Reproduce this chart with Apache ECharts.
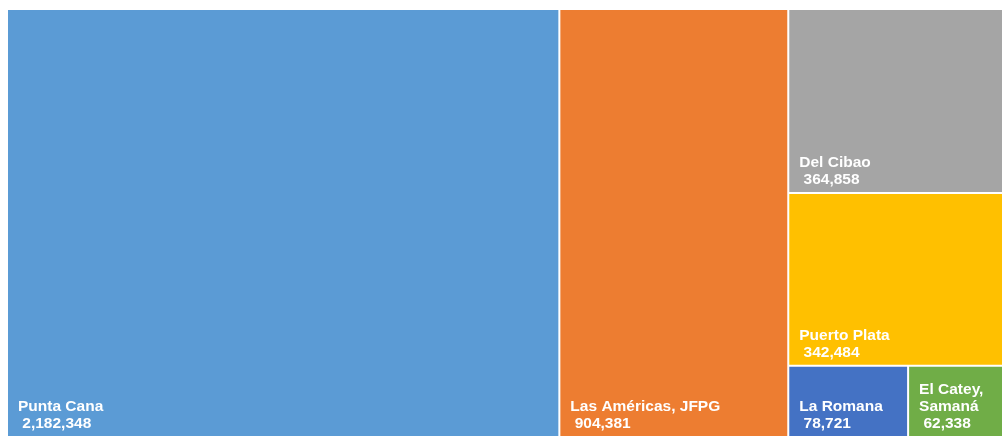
<!DOCTYPE html>
<html>
<head>
<meta charset="utf-8">
<script src="https://cdn.jsdelivr.net/npm/echarts@6/dist/echarts.min.js"></script>
<style>
  html, body { margin: 0; padding: 0; background: #fff; }
  #main { width: 1002px; height: 436px; }
</style>
</head>
<body>
<div id="main"></div>
<script>
// airports and passengers
var airports = ['Punta Cana', 'Las Américas, JFPG', 'Del Cibao', 'Puerto Plata', 'La Romana', 'El Catey, Samaná'];
var passengers = [2182348, 904381, 364858, 342484, 78721, 62338];
var colors = ['#5B9BD5', '#ED7D31', '#A5A5A5', '#FFC000', '#4472C4', '#70AD47'];

function fmt(v) {
  return String(v).replace(/\B(?=(\d{3})+(?!\d))/g, ',');
}

var data = airports.map(function (name, i) {
  return { name: name, value: passengers[i], itemStyle: { color: colors[i] } };
});

var chart = echarts.init(document.getElementById('main'));
chart.setOption({
  animation: false,
  series: [{
    type: 'treemap',
    left: 8,
    top: 10,
    right: 0,
    bottom: 0,
    roam: false,
    nodeClick: false,
    squareRatio: 1,
    breadcrumb: { show: false },
    sort: 'desc',
    levels: [{
      itemStyle: { gapWidth: 2, borderWidth: 0, borderColor: '#fff' }
    }],
    label: {
      show: true,
      position: 'insideBottomLeft',
      padding: [0, 0, 4, 10],
      color: '#fff',
      fontFamily: 'Liberation Sans, Arial, sans-serif',
      fontWeight: 'bold',
      fontSize: 15.5,
      lineHeight: 17,
      overflow: 'break',
      formatter: function (p) {
        return p.name + '\n ' + fmt(p.value);
      }
    },
    data: data
  }]
});
</script>
</body>
</html>
